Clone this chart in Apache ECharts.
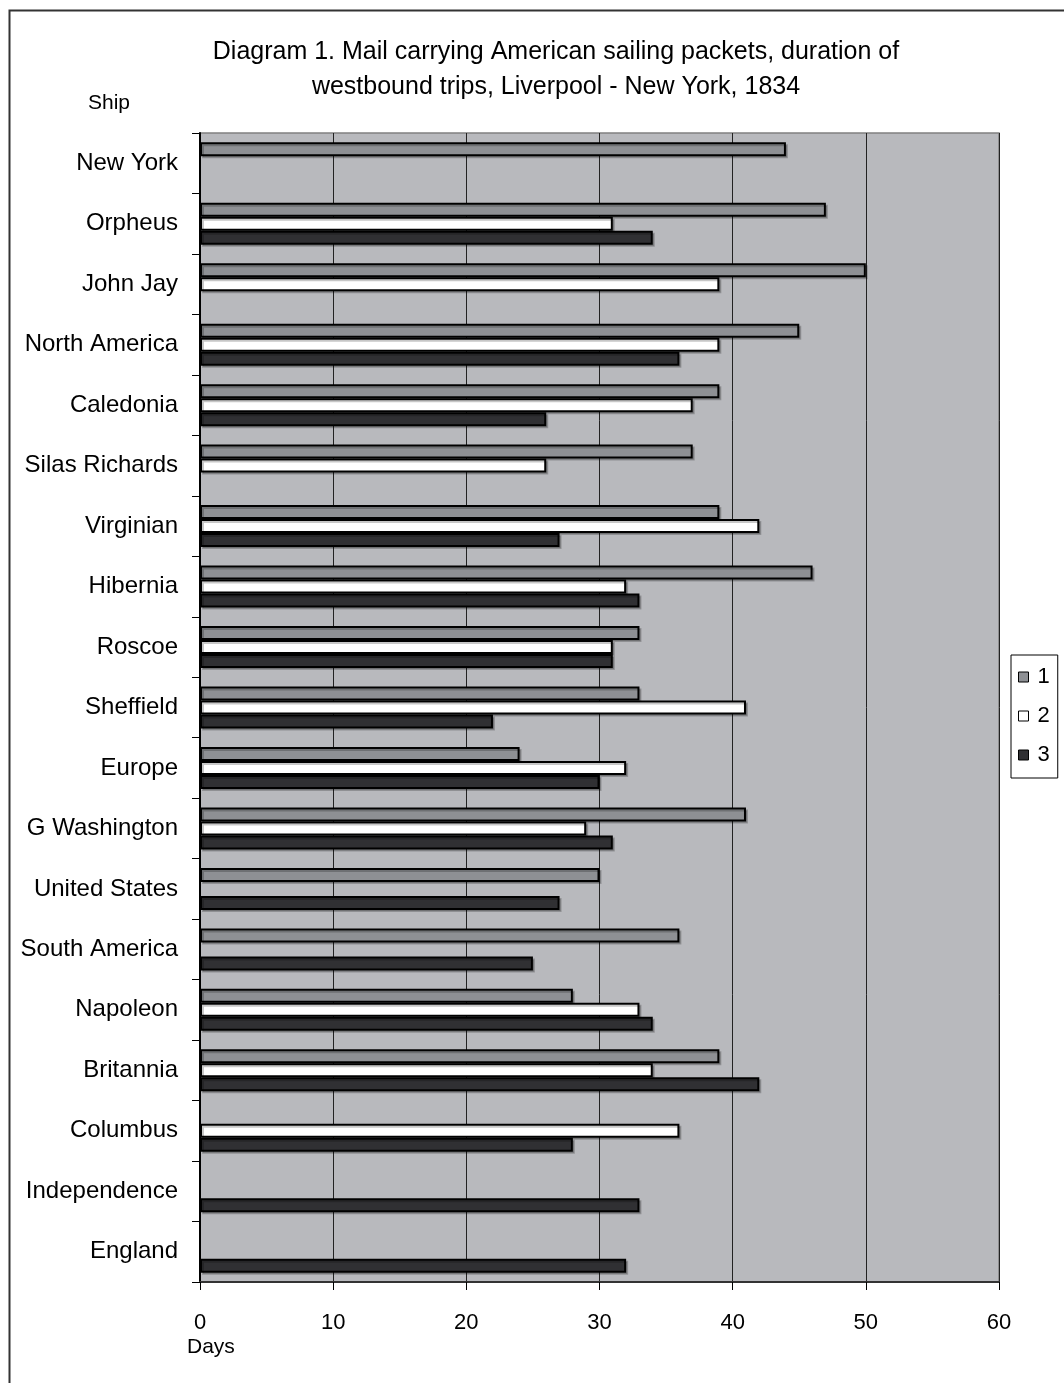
<!DOCTYPE html>
<html>
<head>
<meta charset="utf-8">
<script src="https://cdn.jsdelivr.net/npm/echarts@6/dist/echarts.min.js"></script>
<style>
html,body{margin:0;padding:0;background:#fff;}
#chart{width:1064px;height:1383px;}
</style>
</head>
<body>
<div id="chart"></div>
<script>
const ships = ["New York","Orpheus","John Jay","North America","Caledonia","Silas Richards","Virginian","Hibernia","Roscoe","Sheffield","Europe","G Washington","United States","South America","Napoleon","Britannia","Columbus","Independence","England"];
const trip1 = [44,47,50,45,39,37,39,46,33,33,24,41,30,36,28,39,null,null,null];
const trip2 = [null,31,39,39,37,26,42,32,31,41,32,29,null,null,33,34,36,null,null];
const trip3 = [null,34,null,36,26,null,27,33,31,22,30,31,27,25,34,42,28,33,32];
const seriesNames = ["1","2","3"];
const xTicks = [0,10,20,30,40,50,60];

const font = "Liberation Sans, Arial, sans-serif";
const colors = ["#8e9094","#ffffff","#303033"];
const dataSets = [trip1, trip2, trip3];

const chart = echarts.init(document.getElementById('chart'), null, {renderer:'canvas'});
const series = dataSets.map((d,i)=>({
  name: seriesNames[i],
  type: 'bar',
  data: d,
  barWidth: 14,
  barGap: '0%',
  itemStyle: {
    color: colors[i],
    borderColor: '#000',
    borderWidth: 2,
    shadowColor: 'rgba(0,0,0,0.22)',
    shadowOffsetX: 2,
    shadowOffsetY: 2,
    shadowBlur: 0
  },
  emphasis: {disabled: true},
  animation: false
}));

chart.setOption({
  animation: false,
  title: {
    text: 'Diagram 1. Mail carrying American sailing packets, duration of\nwestbound trips, Liverpool - New York, 1834',
    left: 551, top: 30, textAlign: 'center',
    textStyle: {fontFamily: font, fontSize: 25, fontWeight: 'normal', color: '#000', lineHeight: 35}
  },
  legend: {
    orient: 'vertical',
    left: 1011, top: 655,
    itemWidth: 10, itemHeight: 10, itemGap: 17,
    padding: [11, 8, 12, 7],
    borderColor: '#000', borderWidth: 1,
    backgroundColor: '#fff',
    icon: 'rect',
    textStyle: {fontFamily: font, fontSize: 22, color: '#000', lineHeight: 22, padding: [0,0,0,4]},
    itemStyle: {borderColor: '#000', borderWidth: 1},
    data: seriesNames
  },
  grid: {
    left: 200, right: 65, top: 133, bottom: 101,
    show: true, backgroundColor: '#b8b9bd', borderColor: '#808080', borderWidth: 1.5
  },
  xAxis: {
    type: 'value', min: xTicks[0], max: xTicks[xTicks.length-1], interval: 10,
    axisLine: {show: true, lineStyle: {color: '#333', width: 2}},
    axisTick: {show: true, length: 8, lineStyle: {color: '#000'}},
    axisLabel: {fontFamily: font, fontSize: 22, color: '#000', margin: 30},
    splitLine: {show: true, lineStyle: {color: '#222', width: 1}}
  },
  yAxis: {
    type: 'category', data: ships, inverse: true,
    axisLine: {show: true, lineStyle: {color: '#000', width: 2}},
    axisTick: {show: true, length: 8, lineStyle: {color: '#000'}},
    axisLabel: {fontFamily: font, fontSize: 24, color: '#000', margin: 22, padding: [4,0,0,0]},
    splitLine: {show: false}
  },
  graphic: [
    {type:'rect', left: 7, top: 8, shape:{width: 1200, height: 1500}, style:{fill:'none', stroke:'#333', lineWidth:2}, silent:true},
    {type:'text', left: 88, top: 93, style:{text:'Ship', fontFamily: font, fontSize: 21, fill:'#000'}},
    {type:'text', left: 187, top: 1337, style:{text:'Days', fontFamily: font, fontSize: 21, fill:'#000'}}
  ],
  series: series
});
</script>
</body>
</html>
